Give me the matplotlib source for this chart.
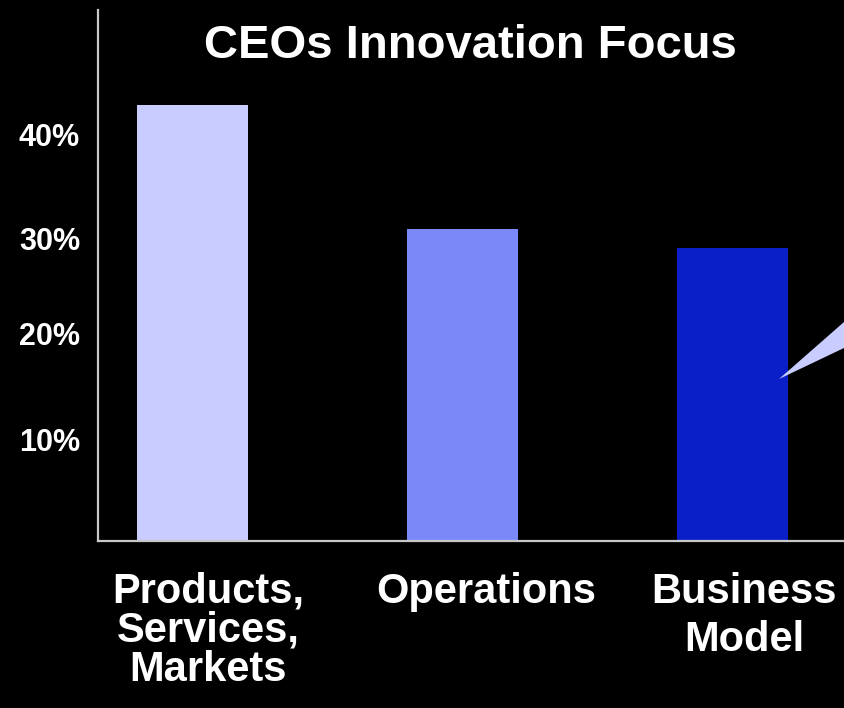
import matplotlib
matplotlib.use("Agg")
import matplotlib.pyplot as plt
import matplotlib.transforms as mtransforms
from matplotlib.patches import Polygon

# Share of CEOs focusing innovation on each area (%)
categories = ["Products,\nServices,\nMarkets", "Operations", "Business\nModel"]
shares = [43.4, 31.0, 29.1]
bar_colors = ["#C8CCFF", "#7B88F8", "#0A1FC8"]
ytick_values = [10, 20, 30, 40]
ytick_labels = ["10%", "20%", "30%", "40%"]
title = "CEOs Innovation Focus"

plt.rcParams["font.family"] = ["Liberation Sans", "DejaVu Sans"]
plt.rcParams["font.weight"] = "bold"

W, H, DPI = 844, 708, 100
fig = plt.figure(figsize=(W / DPI, H / DPI), dpi=DPI, facecolor="black")
ax = fig.add_axes([98 / W, 167 / H, (W - 98) / W, 531 / H], facecolor="black")

x = list(range(len(categories)))
ax.bar(x, shares, width=0.41, color=bar_colors, zorder=2)

ax.set_xlim(-0.35, 2.413)
ax.set_ylim(0, 52.8)

for side in ("top", "right"):
    ax.spines[side].set_visible(False)
for side in ("left", "bottom"):
    ax.spines[side].set_color("#C8C8C8")
    ax.spines[side].set_linewidth(1.6)

ax.set_yticks(ytick_values)
ax.set_yticklabels(ytick_labels, fontsize=22, fontweight="bold", color="white")
ax.tick_params(axis="y", length=0, pad=13)

# small vertical nudges for the percentage labels (pixels, upward)
ylab_shift_px = [1, 6, 1, 4]
for lab, dy in zip(ax.get_yticklabels(), ylab_shift_px):
    lab.set_transform(lab.get_transform() +
                      mtransforms.ScaledTranslation(0, dy / DPI, fig.dpi_scale_trans))

ax.set_xticks(x)
ax.set_xticklabels(categories, fontsize=30, fontweight="bold", color="white",
                   linespacing=0.98, va="top")
ax.tick_params(axis="x", length=0, pad=22)

# nudge category labels slightly to the right; the last one is more loosely set
shift_px = [16, 24, 12]
line_gaps = [0.98, 0.98, 1.28]
for lab, dx, ls in zip(ax.get_xticklabels(), shift_px, line_gaps):
    lab.set_linespacing(ls)
    lab.set_transform(lab.get_transform() +
                      mtransforms.ScaledTranslation(dx / DPI, 0, fig.dpi_scale_trans))

fig.text(470 / W, 1 - 58 / H, title, ha="center", va="baseline",
         fontsize=34, fontweight="bold", color="white")

# callout pointer reaching in from the right edge
pointer = Polygon([(779 / W, 1 - 379 / H), (1.0, 1 - 322 / H), (1.0, 1 - 348 / H)],
                  closed=True, transform=fig.transFigure, facecolor="#C8CCFF",
                  edgecolor="none", zorder=5)
fig.add_artist(pointer)

fig.savefig("out.png", dpi=DPI, facecolor="black")
